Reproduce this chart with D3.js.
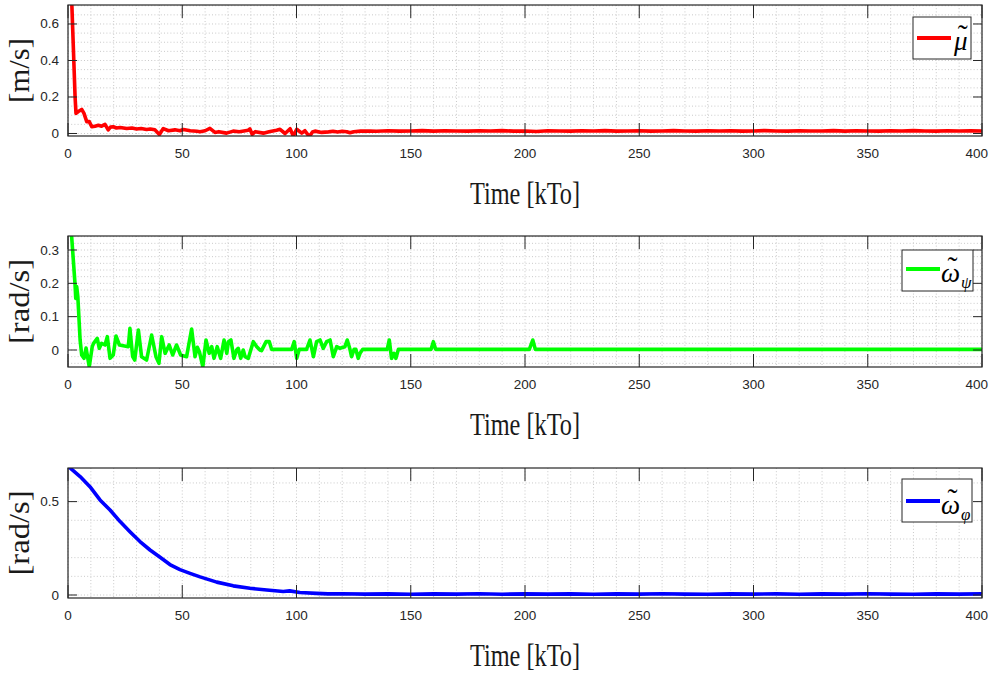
<!DOCTYPE html>
<html><head><meta charset="utf-8">
<script src="https://cdn.jsdelivr.net/npm/d3@7"></script>
<style>body{margin:0;background:#fff}svg{display:block}</style>
</head><body>
<svg id="chart" width="990" height="679"></svg>
<script>
// ---------- data ----------
const timeTicks = [0, 50, 100, 150, 200, 250, 300, 350, 400];
const muTicks = [0, 0.2, 0.4, 0.6];
const psiTicks = [0, 0.1, 0.2, 0.3];
const phiTicks = [0, 0.5];

const muX = [1.0, 3.1, 3.5, 4.5, 6.0, 7.0, 8.2, 9.3, 10.4, 11.8, 13.3, 14.7, 16.2, 17.6, 18.6, 19.8, 21.2, 22.8, 25.7, 28, 30, 32, 34.4, 36, 38, 40, 41.7, 44, 46.8, 49, 50.5, 53.5, 56.4, 57.8, 60, 62.1, 64.3, 66, 69.4, 72.3, 75, 78.9, 79.6, 80.6, 82, 85.5, 88, 91.3, 92.8, 95, 97.2, 98.6, 100.1, 102.3, 103.7, 105.6, 107, 108.1, 111, 114, 116, 118, 120, 122, 123.4, 125, 128, 132,
  135, 140, 145, 150, 155, 160, 165, 170, 175, 180, 185, 190, 195, 200, 205, 210, 215, 220, 225, 230, 235, 240, 245, 250, 255, 260, 265, 270, 275, 280, 285, 290, 295, 300, 305, 310, 315, 320, 325, 330, 335, 340, 345, 350, 355, 360, 365, 370, 375, 380, 385, 390, 395, 400];
const muY = [0.95, 0.2, 0.11, 0.12, 0.132, 0.11, 0.065, 0.065, 0.037, 0.04, 0.045, 0.04, 0.05, 0.02, 0.035, 0.037, 0.03, 0.033, 0.027, 0.03, 0.025, 0.027, 0.022, 0.025, 0.02, -0.005, 0.027, 0.015, 0.02, 0.015, 0.022, 0.015, 0.012, 0.01, 0.015, 0.028, 0.006, 0.01, 0.002, 0.013, 0.01, 0.018, 0.025, -0.004, 0.01, 0.002, 0.01, 0.018, 0.023, 0.0, 0.026, -0.014, 0.023, 0.002, 0.015, -0.017, 0.008, 0.013, 0.006, 0.009, 0.012, 0.008, 0.012, 0.01, 0.004, 0.01, 0.013, 0.014,
  0.012, 0.015, 0.013, 0.014, 0.016, 0.013, 0.015, 0.014, 0.013, 0.015, 0.014, 0.016, 0.013, 0.014, 0.011, 0.015, 0.014, 0.013, 0.015, 0.014, 0.016, 0.013, 0.014, 0.015, 0.013, 0.014, 0.016, 0.014, 0.013, 0.015, 0.014, 0.015, 0.013, 0.014, 0.016, 0.014, 0.013, 0.015, 0.014, 0.014, 0.016, 0.013, 0.015, 0.014, 0.013, 0.015, 0.014, 0.016, 0.014, 0.013, 0.015, 0.014, 0.015, 0.014];

const psiX = [1.0, 1.6, 3.1, 3.4, 3.8, 4.3, 5.3, 6.0, 7.0, 7.9, 9.3, 10.6, 11.2, 12.8, 13.7, 14.7, 16.2, 17.2, 18.4, 19.8, 21.0, 22.5, 26.4, 27.1, 28.3, 29.2, 30.8, 32.2, 34.4, 36.6, 38.5, 39.8, 41.0, 42.5, 44.3, 45.8, 47.5, 49.3, 51.9, 54.1, 55.6, 56.6, 57.5, 59.0, 60.4, 61.8, 62.9, 63.9, 65.3, 66.8, 68.3, 69.5, 70.2, 71.3, 72.6, 73.8, 74.5, 75.6, 76.7, 77.5, 78.9, 81.1, 82.6, 84.0, 84.7, 86.7, 88.1, 89.1, 97.9, 99.0, 100.1, 101.2, 104.4, 105.9, 107.4, 108.8, 110.3, 111.7, 113.2, 114.7, 116.1, 117.6, 119.0, 121.2, 122.2, 123.4, 124.1, 125.2, 126.0, 127.0, 127.8, 129.0, 139.7, 140.6, 141.6, 142.7, 143.5, 144.6, 158.9, 159.9, 160.9, 201.9, 203.4, 204.5, 400];
const psiY = [0.40, 0.34, 0.195, 0.155, 0.19, 0.16, 0.03, -0.015, -0.025, 0.006, -0.05, 0.01, 0.02, 0.035, 0.005, 0.02, 0.015, 0.04, -0.025, -0.015, 0.042, 0.015, 0.01, 0.065, -0.02, -0.03, 0.06, -0.02, -0.03, 0.045, -0.02, -0.04, 0.04, -0.01, 0.015, -0.015, 0.015, -0.015, -0.02, 0.063, -0.02, 0.008, -0.005, -0.05, 0.03, -0.01, 0.01, -0.025, 0.01, -0.025, 0.03, -0.01, 0.025, 0.03, -0.025, 0.0, 0.005, -0.025, 0.0, -0.02, -0.025, 0.025, 0.01, 0.0, -0.002, 0.025, 0.025, 0.002, 0.002, 0.025, -0.025, 0.002, 0.002, 0.03, -0.02, 0.025, 0.03, 0.005, 0.025, 0.03, -0.02, 0.01, 0.005, 0.01, 0.03, 0.002, -0.02, 0.002, 0.002, -0.025, -0.01, 0.002, 0.002, 0.03, -0.025, -0.01, -0.025, 0.002, 0.002, 0.025, 0.002, 0.002, 0.03, 0.002, 0.002];

const phiX = [0, 5.3, 9.6, 14, 18.4, 22.8, 27.1, 31.5, 35.9, 40.3, 44.6, 49, 53.4, 57.8, 65.1, 72.3, 79.6, 87, 94.2, 97, 101.5, 108.8, 113.8, 120, 130, 140, 150, 160, 170, 180, 190, 200, 210, 220, 230, 240, 250, 260, 270, 280, 290, 300, 310, 320, 330, 340, 350, 360, 370, 380, 390, 400];
const phiY = [0.69, 0.634, 0.58, 0.509, 0.455, 0.393, 0.339, 0.286, 0.241, 0.202, 0.163, 0.136, 0.116, 0.097, 0.069, 0.049, 0.036, 0.027, 0.019, 0.022, 0.0135, 0.009, 0.006, 0.007, 0.005, 0.006, 0.004, 0.006, 0.005, 0.007, 0.004, 0.006, 0.005, 0.006, 0.004, 0.006, 0.005, 0.007, 0.005, 0.004, 0.006, 0.005, 0.006, 0.004, 0.006, 0.005, 0.007, 0.005, 0.004, 0.006, 0.005, 0.006];

// ---------- layout ----------
const svg = d3.select('#chart');
const left = 68, right = 982;
const x = d3.scaleLinear().domain([0, 400]).range([left, right]);
const serif = '"Liberation Serif", "Times New Roman", serif';

const panels = [
  {top: 5, bottom: 136, domain: [-0.0137, 0.704], ticks: muTicks, minorStep: 0.05, xs: muX, ys: muY,
   color: '#ff0000', ylabel: '[m/s]', ylabelLen: 65,
   leg: {x0: 913, y0: 17, x1: 971, y1: 59, lx0: 917, lx1: 951, ly: 38, tx: 954, base: 50, sym: 'μ', sub: null}},
  {top: 236, bottom: 367, domain: [-0.051, 0.342], ticks: psiTicks, minorStep: 0.02, xs: psiX, ys: psiY,
   color: '#00ff00', ylabel: '[rad/s]', ylabelLen: 85,
   leg: {x0: 902, y0: 250, x1: 973, y1: 291, lx0: 906, lx1: 940, ly: 269, tx: 941, base: 282, sym: 'ω', sub: 'ψ'}},
  {top: 468, bottom: 598, domain: [-0.016, 0.680], ticks: phiTicks, minorStep: 0.1, xs: phiX, ys: phiY,
   color: '#0000ff', ylabel: '[rad/s]', ylabelLen: 85,
   leg: {x0: 902, y0: 479, x1: 972, y1: 522, lx0: 906, lx1: 940, ly: 501, tx: 941, base: 514, sym: 'ω', sub: 'φ'}}
];

const fmt = d => (d === 0 ? '0' : d3.format('.1f')(d));
const minorX = d3.range(0, 401, 10);

// measure helper
function measure(txt, size, italic) {
  const t = svg.append('text').attr('font-family', serif).attr('font-size', size)
    .attr('font-style', italic ? 'italic' : 'normal').text(txt);
  const w = t.node().getComputedTextLength();
  t.remove();
  return w;
}

panels.forEach((p, i) => {
  const y = d3.scaleLinear().domain(p.domain).range([p.bottom, p.top]);
  const g = svg.append('g');
  const cid = 'clip' + i;
  svg.append('defs').append('clipPath').attr('id', cid)
    .append('rect').attr('x', left).attr('y', p.top).attr('width', right - left).attr('height', p.bottom - p.top);

  // grid (dotted)
  const grid = g.append('g').attr('stroke', '#c9c9c9').attr('stroke-width', 1).attr('stroke-dasharray', '1,2.2');
  minorX.forEach(v => grid.append('line').attr('x1', x(v)).attr('x2', x(v)).attr('y1', p.top).attr('y2', p.bottom));
  const nMin = Math.ceil(p.domain[0] / p.minorStep), nMax = Math.floor(p.domain[1] / p.minorStep);
  d3.range(nMin, nMax + 1).forEach(k => {
    const v = k * p.minorStep;
    grid.append('line').attr('x1', left).attr('x2', right).attr('y1', y(v)).attr('y2', y(v));
  });

  // data line
  const pts = p.xs.map((v, j) => [v, p.ys[j]]);
  g.append('path').datum(pts)
    .attr('clip-path', `url(#${cid})`)
    .attr('fill', 'none').attr('stroke', p.color).attr('stroke-width', 3.6)
    .attr('stroke-linejoin', 'round').attr('stroke-linecap', 'round')
    .attr('d', d3.line().x(d => x(d[0])).y(d => y(d[1])));

  // ticks (inward, all four sides)
  const tk = g.append('g').attr('stroke', '#262626').attr('stroke-width', 1);
  timeTicks.forEach(v => {
    tk.append('line').attr('x1', x(v)).attr('x2', x(v)).attr('y1', p.bottom).attr('y2', p.bottom - 13);
    tk.append('line').attr('x1', x(v)).attr('x2', x(v)).attr('y1', p.top).attr('y2', p.top + 13);
  });
  p.ticks.forEach(v => {
    tk.append('line').attr('x1', left).attr('x2', left + 9).attr('y1', y(v)).attr('y2', y(v));
    tk.append('line').attr('x1', right).attr('x2', right - 9).attr('y1', y(v)).attr('y2', y(v));
  });

  // box
  g.append('rect').attr('x', left).attr('y', p.top).attr('width', right - left).attr('height', p.bottom - p.top)
    .attr('fill', 'none').attr('stroke', '#262626').attr('stroke-width', 1.2);

  // tick labels
  const tl = g.append('g').attr('font-family', '"Liberation Sans", Arial, sans-serif').attr('font-size', 13.5).attr('fill', '#262626');
  timeTicks.forEach((v, j) => {
    const last = j === timeTicks.length - 1;
    tl.append('text').attr('x', last ? 988 : x(v)).attr('y', p.bottom + 22)
      .attr('text-anchor', last ? 'end' : 'middle').text(v);
  });
  p.ticks.forEach(v => tl.append('text').attr('x', left - 9).attr('y', y(v) + 4.5).attr('text-anchor', 'end').text(fmt(v)));

  // axis titles
  g.append('text').attr('x', (left + right) / 2).attr('y', p.bottom + 68)
    .attr('text-anchor', 'middle').attr('font-family', serif)
    .attr('font-size', 31).attr('fill', '#1a1a1a')
    .attr('textLength', 110).attr('lengthAdjust', 'spacingAndGlyphs')
    .text('Time [kTo]');
  g.append('text').attr('transform', `translate(29,${(p.top + p.bottom) / 2}) rotate(-90)`)
    .attr('text-anchor', 'middle').attr('font-family', serif)
    .attr('font-size', 29).attr('fill', '#1a1a1a')
    .attr('textLength', p.ylabelLen).attr('lengthAdjust', 'spacingAndGlyphs')
    .text(p.ylabel);

  // legend
  const L = p.leg;
  const lg = g.append('g');
  lg.append('rect').attr('x', L.x0).attr('y', L.y0).attr('width', L.x1 - L.x0).attr('height', L.y1 - L.y0)
    .attr('fill', '#fff').attr('stroke', '#262626').attr('stroke-width', 1);
  lg.append('line').attr('x1', L.lx0).attr('x2', L.lx1).attr('y1', L.ly).attr('y2', L.ly)
    .attr('stroke', p.color).attr('stroke-width', 4);
  const wSym = measure(L.sym, 27, true);
  const wTil = measure('\u02DC', 30, false);
  const t = lg.append('text').attr('x', L.tx).attr('y', L.base)
    .attr('font-family', serif).attr('font-size', 27).attr('fill', '#000');
  t.append('tspan').attr('font-style', 'italic').text(L.sym);
  t.append('tspan').attr('dx', -(wSym / 2 + wTil / 2) + 2).attr('dy', -5)
    .attr('font-size', 30).text('\u02DC');
  if (L.sub) t.append('tspan').attr('dx', (wSym / 2 - wTil / 2) - 1).attr('dy', 11)
    .attr('font-style', 'italic').attr('font-size', 17).text(L.sub);
});
</script>
</body></html>
